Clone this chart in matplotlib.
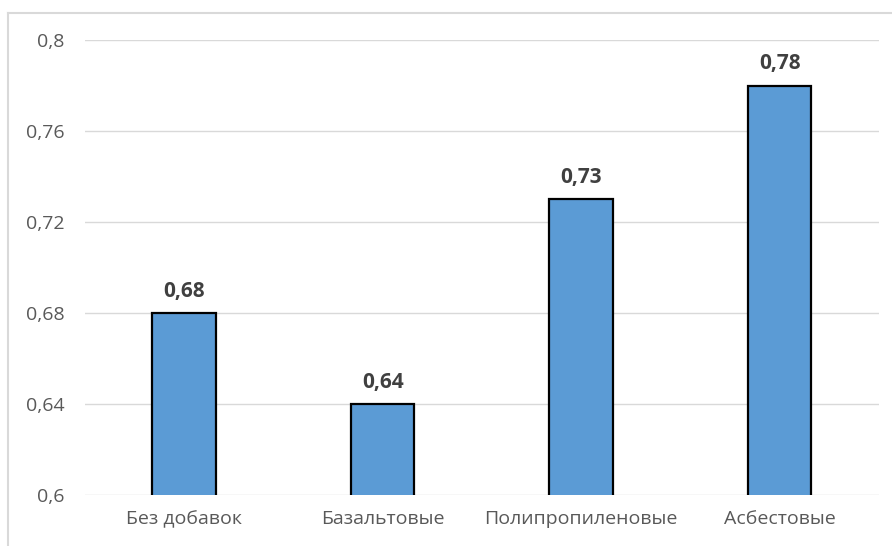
import matplotlib
matplotlib.use("Agg")
import matplotlib.pyplot as plt
from matplotlib.lines import Line2D
from matplotlib.ticker import FixedLocator

categories = ["Без добавок", "Базальтовые", "Полипропиленовые", "Асбестовые"]
values = [0.68, 0.64, 0.73, 0.78]
y_ticks = [0.6, 0.64, 0.68, 0.72, 0.76, 0.8]
y_tick_labels = ["0,6", "0,64", "0,68", "0,72", "0,76", "0,8"]

plt.rcParams["font.family"] = ["Open Sans", "DejaVu Sans"]

fig = plt.figure(figsize=(8.92, 5.46), dpi=100)
ax = fig.add_axes([0.0953, 0.0934, 0.89, 0.8333])

x = range(len(categories))
ax.bar(x, values, width=0.32, color="#5B9BD5", edgecolor="black",
       linewidth=1.6, zorder=3)

for xi, v in zip(x, values):
    ax.annotate(f"{v:.2f}".replace(".", ","), (xi, v), xytext=(0, 8),
                textcoords="offset points", ha="center", va="bottom",
                fontsize=15, fontweight="bold", color="#404040")

ax.set_xlim(-0.5, len(categories) - 0.5)
ax.set_ylim(0.6, 0.8)
ax.yaxis.set_major_locator(FixedLocator(y_ticks))
ax.set_yticklabels(y_tick_labels)
ax.set_xticks(list(x))
ax.set_xticklabels(categories)
ax.tick_params(axis="both", length=0, labelsize=14, colors="#595959")
ax.tick_params(axis="y", pad=15)
ax.tick_params(axis="x", pad=11)
ax.grid(axis="y", color="#D9D9D9", linewidth=1.0, zorder=0)
for spine in ax.spines.values():
    spine.set_visible(False)

# chart frame (cropped at right and bottom)
fig.add_artist(Line2D([8 / 892, 8 / 892], [0, 1 - 13 / 546],
                      transform=fig.transFigure, color="#D9D9D9", linewidth=1.5))
fig.add_artist(Line2D([8 / 892, 1], [1 - 13 / 546, 1 - 13 / 546],
                      transform=fig.transFigure, color="#D9D9D9", linewidth=1.5))

fig.savefig("out.png", dpi=100)
